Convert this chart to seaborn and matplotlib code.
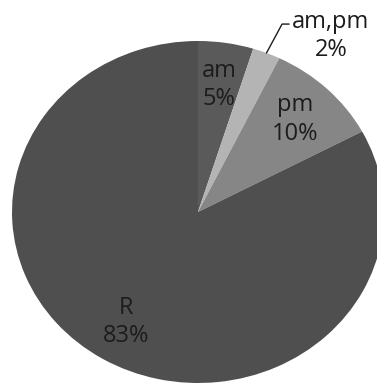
import matplotlib
matplotlib.use("Agg")
import matplotlib.pyplot as plt
import seaborn as sns
import numpy as np

# ─── Data ───────────────────────────────────────────────────────────────────
categories = ["am", "am,pm", "pm", "R"]
shares     = [4.8, 2.4, 10.0, 82.8]
colors     = ["#5a5a5a", "#b4b4b4", "#868686", "#4f4f4f"]

sns.set_theme(style="white")
plt.rcParams["font.family"] = ["Open Sans", "DejaVu Sans"]

fig = plt.figure(figsize=(3.77, 3.83), dpi=100)
ax = fig.add_axes([0, 0, 1, 1])

wedges, _, autotexts = ax.pie(
    shares, colors=colors, startangle=90, counterclock=False,
    autopct="%.0f%%", pctdistance=0.75, radius=1.0,
    wedgeprops=dict(linewidth=0),
    textprops=dict(fontsize=17, color="#1c1c1c"),
)

# combine category name and percentage, like the original labels
for name, t in zip(categories, autotexts):
    t.set_text(f"{name}\n{t.get_text()}")
    t.set_linespacing(1.25)

# small slice gets an outside label with a leader line
small = categories.index("am,pm")
pct = autotexts[small].get_text().split("\n")[1]
autotexts[small].set_visible(False)
w = wedges[small]
theta = np.deg2rad((w.theta1 + w.theta2) / 2)
x0, y0 = np.cos(theta), np.sin(theta)
ax.plot([x0, 0.452, 0.49], [y0, 1.099, 1.099], color="#1c1c1c", lw=1)
ax.text(0.715, 1.03, f"am,pm\n{pct}", ha="center", va="center",
        fontsize=17, color="#1c1c1c", linespacing=1.25)

ax.set_aspect("auto")
ax.set_xlim(-198 / 186, (377 - 198) / 186)
ax.set_ylim(-1.0, (383 - 171) / 171)
ax.axis("off")

fig.savefig("out.png", dpi=100)
